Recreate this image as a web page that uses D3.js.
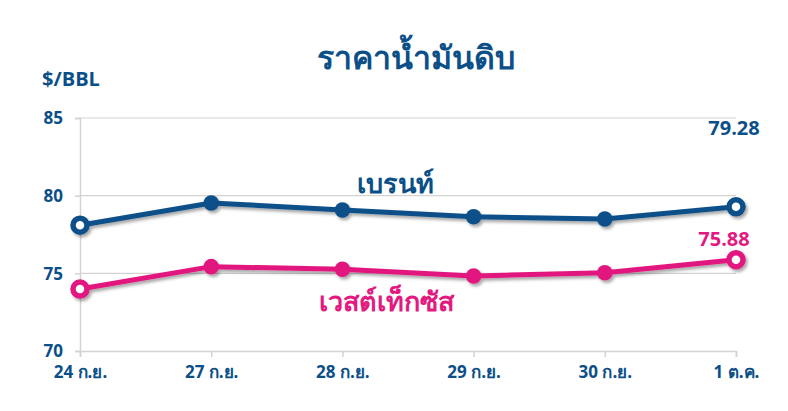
<!DOCTYPE html>
<html><head><meta charset="utf-8">
<script src="https://cdn.jsdelivr.net/npm/d3@7"></script>
<style>
body{margin:0;background:#fff;}
text{font-family:"Open Sans","Noto Sans",sans-serif;font-weight:700;}
</style></head>
<body><svg id="c" width="788" height="411"></svg>
<script>
const categories = ["24 ก.ย.","27 ก.ย.","28 ก.ย.","29 ก.ย.","30 ก.ย.","1 ต.ค."];
const brent = [78.1, 79.53, 79.08, 78.64, 78.5, 79.28];
const wti = [73.99, 75.43, 75.26, 74.83, 75.04, 75.88];
const yTicks = [70, 75, 80, 85];
const title = "ราคาน้ำมันดิบ";
const unit = "$/BBL";
const brentName = "เบรนท์";
const wtiName = "เวสต์เท็กซัส";

const blue = "#0b4f88", pink = "#e2197f", grid = "#d3d3d3";
const svg = d3.select("#c");
const defs = svg.append("defs");
const f = defs.append("filter").attr("id","sh").attr("x","-20%").attr("y","-50%").attr("width","140%").attr("height","200%");
f.append("feDropShadow").attr("dx",2).attr("dy",2.5).attr("stdDeviation",1.8).attr("flood-color","#000").attr("flood-opacity",0.35);

const x = d3.scalePoint().domain(categories).range([80, 736]);
const y = d3.scaleLinear().domain([70, 85]).range([351, 118]);

// gridlines
svg.append("g").selectAll("line").data(yTicks.filter(d=>d>70)).join("line")
  .attr("x1",80).attr("x2",736).attr("y1",d=>y(d)).attr("y2",d=>y(d))
  .attr("stroke",grid).attr("stroke-width",1.2);

// y axis
const ya = svg.append("g").attr("transform","translate(80,0)")
  .call(d3.axisLeft(y).tickValues(yTicks).tickSize(5).tickPadding(12).tickFormat(d3.format("d")));
ya.select(".domain").attr("stroke",grid).attr("stroke-width",1.5);
ya.selectAll(".tick line").attr("stroke",grid).attr("stroke-width",1.5);
ya.selectAll("text").attr("fill",blue).attr("font-size",17).attr("dy","0.35em");

// x axis
const xa = svg.append("g").attr("transform","translate(0,351)")
  .call(d3.axisBottom(x).tickSize(6).tickPadding(9));
xa.select(".domain").attr("stroke",grid).attr("stroke-width",1.5);
xa.selectAll(".tick line").attr("stroke",grid).attr("stroke-width",1.5);
xa.selectAll("text").attr("fill",blue).attr("font-size",17);

// title
svg.append("text").attr("x",416).attr("y",69).attr("text-anchor","middle")
  .attr("fill",blue).attr("font-size",32).text(title);
svg.append("text").attr("x",42).attr("y",86).attr("fill",blue).attr("font-size",20).text(unit);

const line = d3.line().x((d,i)=>x(categories[i])).y(d=>y(d));
function series(data,color){
  const g = svg.append("g").attr("filter","url(#sh)");
  g.append("path").datum(data).attr("d",line).attr("fill","none")
    .attr("stroke",color).attr("stroke-width",5).attr("stroke-linejoin","round");
  g.selectAll("circle").data(data).join("circle")
    .attr("cx",(d,i)=>x(categories[i])).attr("cy",d=>y(d))
    .attr("r",(d,i)=>(i===0||i===data.length-1)?7:7.8)
    .attr("fill",(d,i)=>(i===0||i===data.length-1)?"#fff":color)
    .attr("stroke",color)
    .attr("stroke-width",(d,i)=>(i===0||i===data.length-1)?5.5:0);
}
series(brent,blue);
series(wti,pink);

svg.append("text").attr("x",395).attr("y",193).attr("text-anchor","middle")
  .attr("fill",blue).attr("font-size",27).text(brentName);
svg.append("text").attr("x",386).attr("y",311).attr("text-anchor","middle")
  .attr("fill",pink).attr("font-size",27).text(wtiName);

svg.append("text").attr("x",734).attr("y",135).attr("text-anchor","middle")
  .attr("fill",blue).attr("font-size",20).text(d3.format(".2f")(brent[brent.length-1]));
svg.append("text").attr("x",724).attr("y",246).attr("text-anchor","middle")
  .attr("fill",pink).attr("font-size",20).text(d3.format(".2f")(wti[wti.length-1]));
</script></body></html>
